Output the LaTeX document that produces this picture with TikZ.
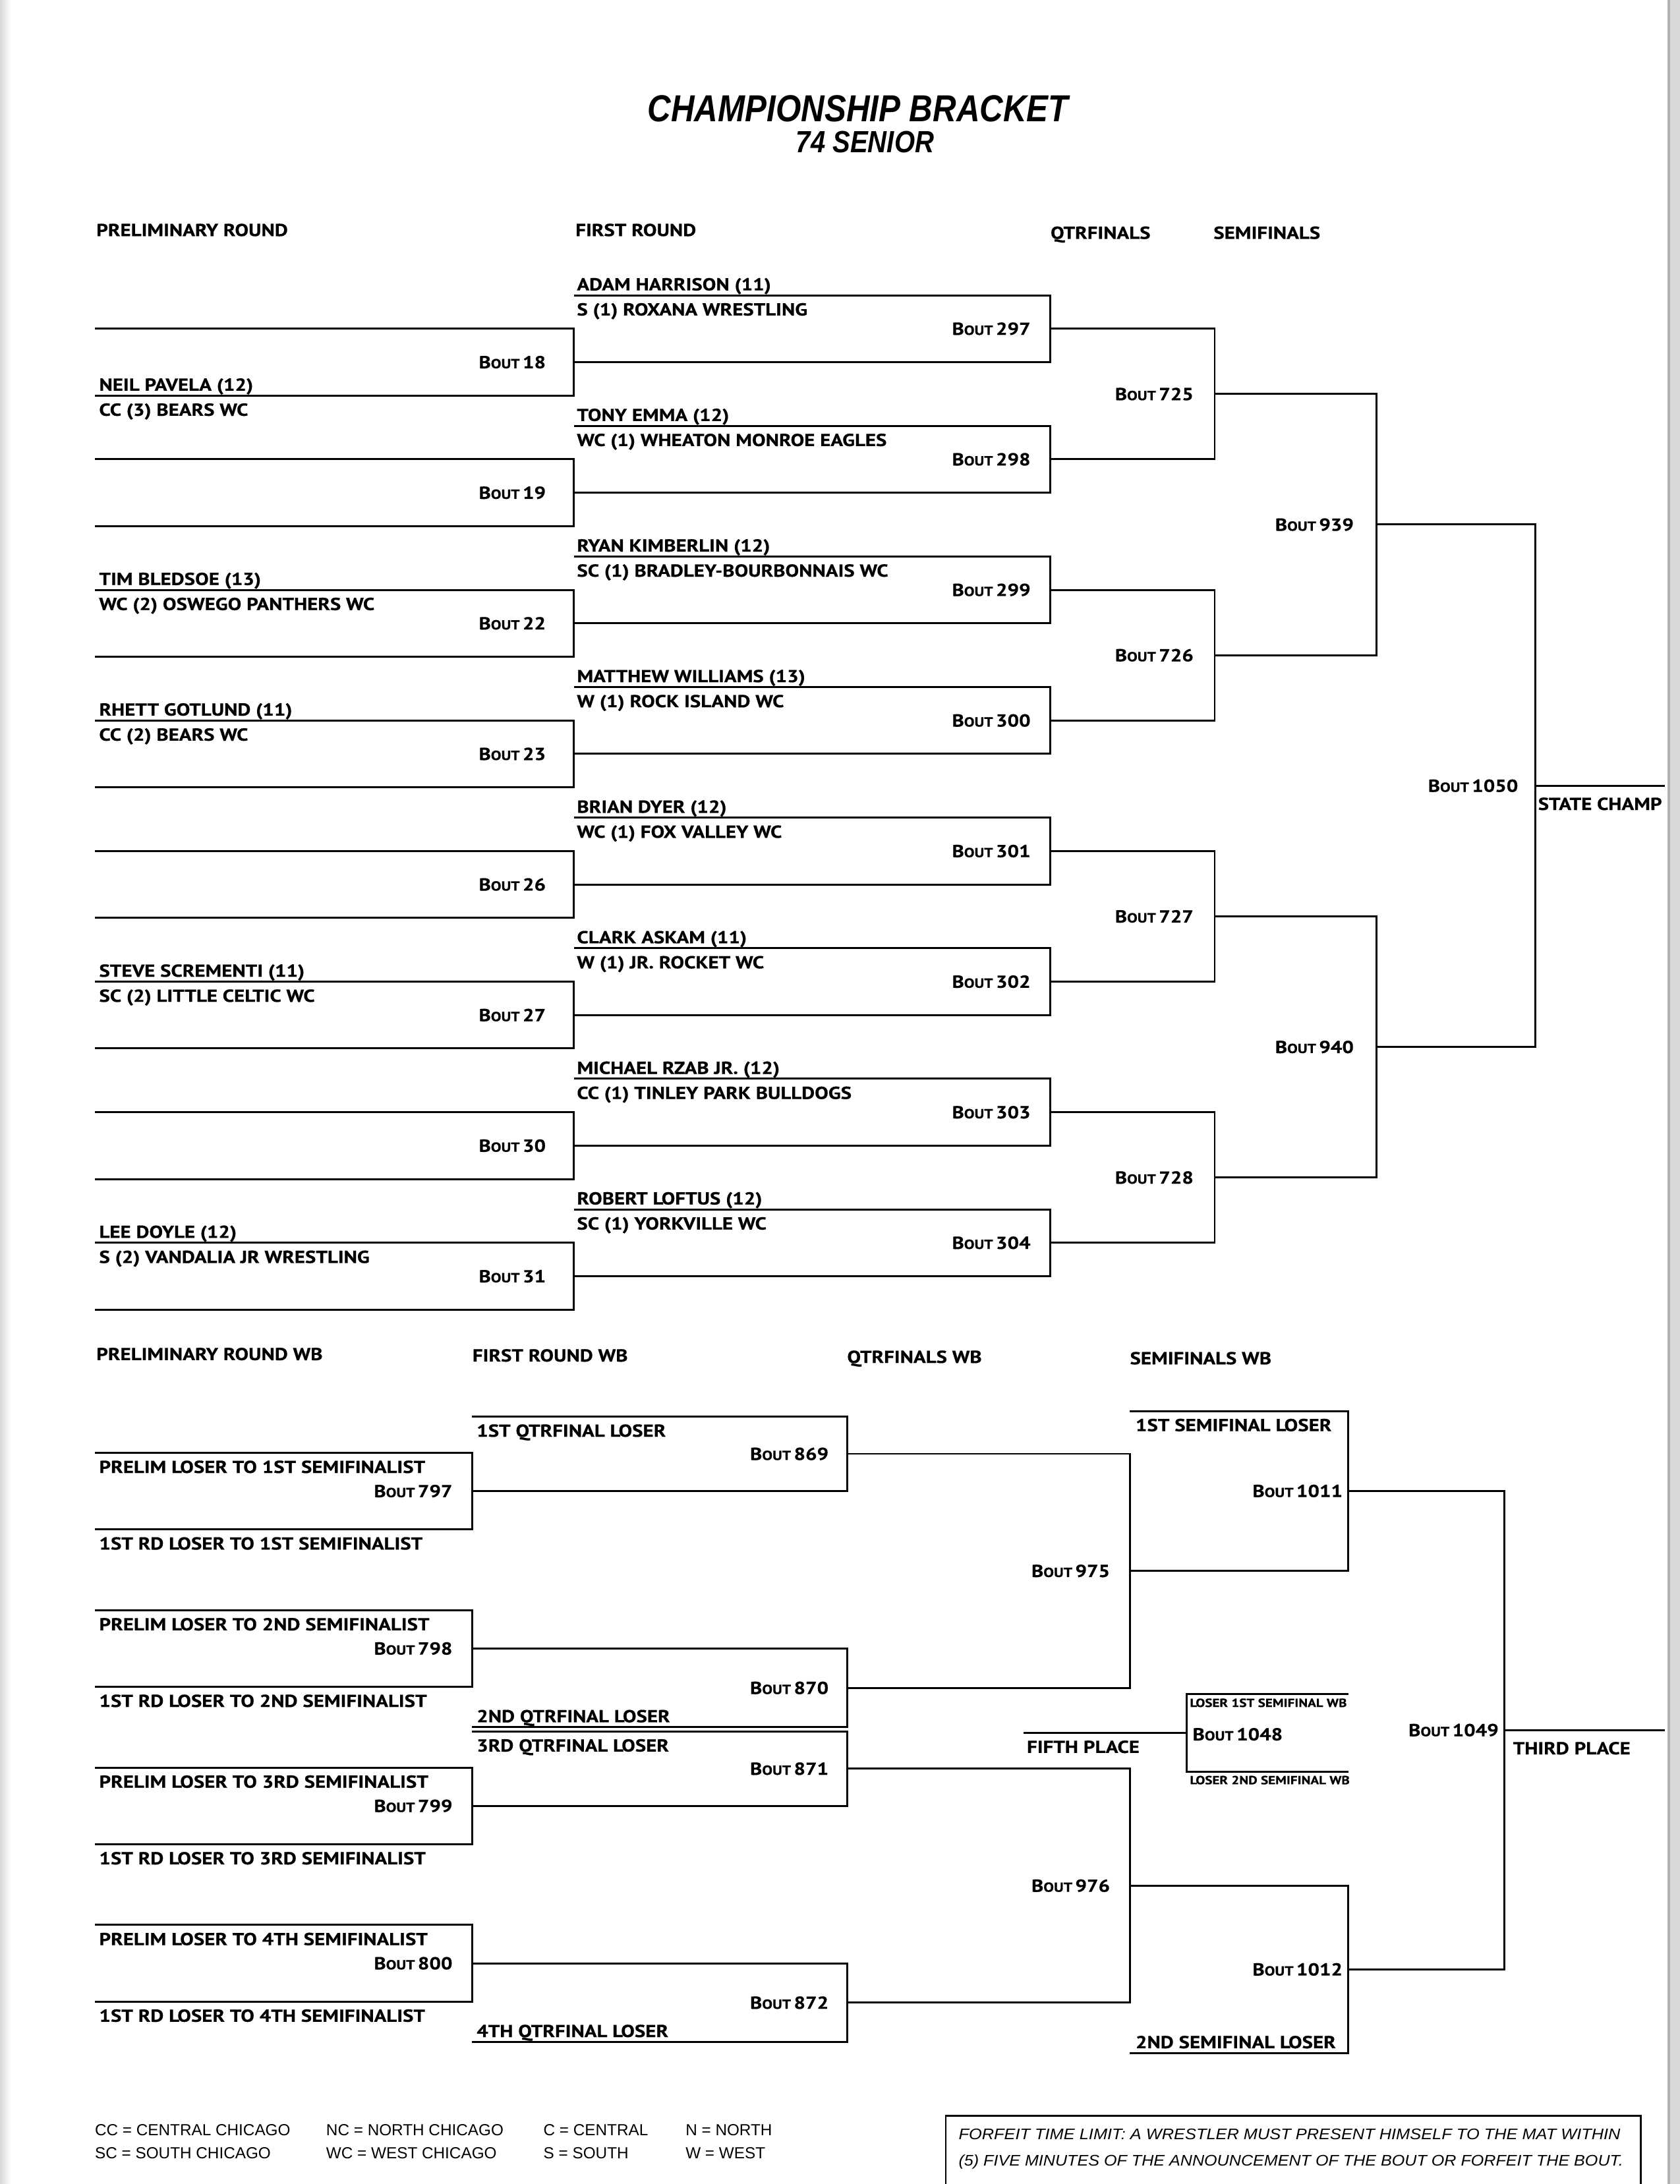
\documentclass[tikz,border=0pt]{standalone}
\usepackage{fontspec}
\usepackage{graphicx}
\setmainfont{PT Sans}[FakeStretch=1.17, BoldFeatures={FakeBold=0.5}]
\newfontfamily\arialf{Liberation Sans}
\tikzset{
  brk/.style={line width=1.4pt, line join=miter},
  lbl/.style={font=\bfseries\fontsize{12.5}{14}\selectfont, inner sep=0pt},
  lw/.style={lbl, anchor=base west},
  le/.style={lbl, anchor=base east},
  tiny/.style={font=\bfseries\fontsize{8.5}{10}\selectfont, inner sep=0pt, anchor=base west},
  leg/.style={font=\arialf\fontsize{11.5}{13}\selectfont, inner sep=0pt, anchor=base west},
}
\newcommand\bout[1]{B{\fontsize{9.5}{10}\selectfont OUT}\,#1}
\begin{document}
\begin{tikzpicture}[x=1pt,y=-1pt]
\useasboundingbox (0,0) rectangle (1206,1568);
\fill[white] (0,0) rectangle (1206,1568);
% page edges of the scan
\fill[gray!30] (1197,0) rectangle (1206,1568);
\fill[gray!60] (1197,0) rectangle (1199,1568);
\shade[left color=gray!30,right color=white] (0,0) rectangle (8,1568);

% titles
\node[inner sep=0pt] (title) at (616,78) {\resizebox{302pt}{\height}{\arialf\bfseries\itshape\fontsize{27}{30}\selectfont CHAMPIONSHIP BRACKET}};
\node[inner sep=0pt] (sub) at (621,102) {\resizebox{99pt}{\height}{\arialf\bfseries\itshape\fontsize{22}{24}\selectfont 74 SENIOR}};

% headings
\node[lw] (h1) at (69,169.5) {PRELIMINARY ROUND};
\node[lw] (h2) at (413,169.5) {FIRST ROUND};
\node[lw] (h3) at (754,171.5) {QTRFINALS};
\node[lw] (h4) at (871,171.5) {SEMIFINALS};
\node[lw] (h5) at (69,976.5) {PRELIMINARY ROUND WB};
\node[lw] (h6) at (339,977.5) {FIRST ROUND WB};
\node[lw] (h7) at (608,978.5) {QTRFINALS WB};
\node[lw] (h8) at (811,979.5) {SEMIFINALS WB};

% ---------------- championship bracket ----------------
% preliminary round
\foreach \i/\b in {0/18,1/19,2/22,3/23,4/26,5/27,6/30,7/31} {
  \pgfmathsetmacro\t{236+93.75*\i}
  \draw[brk] (68,\t) -- (412,\t) -- (412,{\t+48}) -- (68,{\t+48});
  \node[le] (p\b) at (392,{\t+28.4}) {\bout{\b}};
}
% first round
\foreach \i/\b/\nm/\tm in {
  0/297/ADAM HARRISON (11)/S (1) ROXANA WRESTLING,
  1/298/TONY EMMA (12)/WC (1) WHEATON MONROE EAGLES,
  2/299/RYAN KIMBERLIN (12)/SC (1) BRADLEY-BOURBONNAIS WC,
  3/300/MATTHEW WILLIAMS (13)/W (1) ROCK ISLAND WC,
  4/301/BRIAN DYER (12)/WC (1) FOX VALLEY WC,
  5/302/CLARK ASKAM (11)/W (1) JR. ROCKET WC,
  6/303/MICHAEL RZAB JR. (12)/CC (1) TINLEY PARK BULLDOGS,
  7/304/ROBERT LOFTUS (12)/SC (1) YORKVILLE WC} {
  \pgfmathsetmacro\t{212+93.75*\i}
  \draw[brk] (412,\t) -- (754,\t) -- (754,{\t+48}) -- (412,{\t+48});
  \node[le] (f\b) at (740,{\t+28.4}) {\bout{\b}};
  \node[lw] (fn\b) at (414,{\t-3.5}) {\nm};
  \node[lw] (ft\b) at (414,{\t+14.5}) {\tm};
}
% preliminary wrestlers
\node[lw] (n18) at (71,280.5) {NEIL PAVELA (12)};
\node[lw] (t18) at (71,298.5) {CC (3) BEARS WC};
\node[lw] (n22) at (71,420) {TIM BLEDSOE (13)};
\node[lw] (t22) at (71,438) {WC (2) OSWEGO PANTHERS WC};
\node[lw] (n23) at (71,513.75) {RHETT GOTLUND (11)};
\node[lw] (t23) at (71,531.75) {CC (2) BEARS WC};
\node[lw] (n27) at (71,701.25) {STEVE SCREMENTI (11)};
\node[lw] (t27) at (71,719.25) {SC (2) LITTLE CELTIC WC};
\node[lw] (n31) at (71,888.75) {LEE DOYLE (12)};
\node[lw] (t31) at (71,906.75) {S (2) VANDALIA JR WRESTLING};
% quarterfinals
\foreach \j/\b in {0/725,1/726,2/727,3/728} {
  \pgfmathsetmacro\t{236+187.5*\j}
  \draw[brk] (754,\t) -- (872,\t) -- (872,{\t+93.75}) -- (754,{\t+93.75});
  \node[le] (q\b) at (857,{\t+46.9+4.4}) {\bout{\b}};
}
% semifinals
\foreach \k/\b in {0/939,1/940} {
  \pgfmathsetmacro\t{282.9+375*\k}
  \draw[brk] (872,\t) -- (988,\t) -- (988,{\t+187.5}) -- (872,{\t+187.5});
  \node[le] (s\b) at (972,{\t+93.75+4.4}) {\bout{\b}};
}
% final
\draw[brk] (988,376.6) -- (1102,376.6) -- (1102,751.6) -- (988,751.6);
\draw[brk] (1102,564.1) -- (1195,564.1);
\node[le] (b1050) at (1090,568.5) {\bout{1050}};
\node[lw] (champ) at (1104,581.5) {STATE CHAMP};

% ---------------- wrestle-back bracket ----------------
\foreach \i/\b/\o in {0/797/1ST,1/798/2ND,2/799/3RD,3/800/4TH} {
  \pgfmathsetmacro\t{1043+113*\i}
  \draw[brk] (68,\t) -- (339,\t) -- (339,{\t+55}) -- (68,{\t+55});
  \node[le] (w\b) at (325,{\t+27.5+4.4}) {\bout{\b}};
  \node[lw] (wa\b) at (71,{\t+14.5}) {PRELIM LOSER TO \o\ SEMIFINALIST};
  \node[lw] (wb\b) at (71,{\t+69.5}) {1ST RD LOSER TO \o\ SEMIFINALIST};
}
% first round WB
\draw[brk] (339,1017) -- (608,1017) -- (608,1070.5) -- (339,1070.5);
\node[le] (w869) at (595,1048.2) {\bout{869}};
\node[lw] (l869) at (342,1031.5) {1ST QTRFINAL LOSER};
\draw[brk] (339,1183.5) -- (608,1183.5) -- (608,1240) -- (339,1240);
\node[le] (w870) at (595,1216.2) {\bout{870}};
\node[lw] (l870) at (342,1236.5) {2ND QTRFINAL LOSER};
\draw[brk] (339,1243) -- (608,1243) -- (608,1296.5) -- (339,1296.5);
\node[le] (w871) at (595,1274.2) {\bout{871}};
\node[lw] (l871) at (342,1257.5) {3RD QTRFINAL LOSER};
\draw[brk] (339,1409.5) -- (608,1409.5) -- (608,1466) -- (339,1466);
\node[le] (w872) at (595,1442.2) {\bout{872}};
\node[lw] (l872) at (342,1462.5) {4TH QTRFINAL LOSER};
% quarterfinals WB
\draw[brk] (608,1043.75) -- (811,1043.75) -- (811,1211.75) -- (608,1211.75);
\node[le] (w975) at (797,1132.2) {\bout{975}};
\draw[brk] (608,1269.75) -- (811,1269.75) -- (811,1437.75) -- (608,1437.75);
\node[le] (w976) at (797,1358.2) {\bout{976}};
% semifinals WB
\draw[brk] (811,1013) -- (968,1013) -- (968,1127.75) -- (811,1127.75);
\node[le] (w1011) at (964,1074.8) {\bout{1011}};
\node[lw] (l1011) at (815,1027.5) {1ST SEMIFINAL LOSER};
\draw[brk] (811,1353.75) -- (968,1353.75) -- (968,1474) -- (811,1474);
\node[le] (w1012) at (964,1418.3) {\bout{1012}};
\node[lw] (l1012) at (815,1470.5) {2ND SEMIFINAL LOSER};
% third place
\draw[brk] (968,1070.4) -- (1080,1070.4) -- (1080,1413.9) -- (968,1413.9);
\draw[brk] (1080,1242.1) -- (1195,1242.1);
\node[le] (w1049) at (1076,1246.5) {\bout{1049}};
\node[lw] (third) at (1086,1259.5) {THIRD PLACE};
% fifth place
\draw[brk] (968,1216) -- (852,1216) -- (852,1272) -- (968,1272);
\draw[brk] (735,1244) -- (852,1244);
\node[lw] (w1048) at (856,1249.5) {\bout{1048}};
\node[tiny] (l1048a) at (854,1225.5) {LOSER 1ST SEMIFINAL WB};
\node[tiny] (l1048b) at (854,1281) {LOSER 2ND SEMIFINAL WB};
\node[lw] (fifth) at (737,1258.5) {FIFTH PLACE};

% ---------------- legend ----------------
\node[leg] (g1) at (68,1533) {CC = CENTRAL CHICAGO};
\node[leg] (g2) at (68,1550) {SC = SOUTH CHICAGO};
\node[leg] (g3) at (234,1533) {NC = NORTH CHICAGO};
\node[leg] (g4) at (234,1550) {WC = WEST CHICAGO};
\node[leg] (g5) at (390,1533) {C = CENTRAL};
\node[leg] (g6) at (390,1550) {S = SOUTH};
\node[leg] (g7) at (492,1533) {N = NORTH};
\node[leg] (g8) at (492,1550) {W = WEST};

% forfeit box
\draw[line width=1.3pt] (679,1568) -- (679,1519) -- (1178,1519) -- (1178,1568);
\node[leg] (ff1) at (688,1536) {\resizebox{475pt}{\height}{\arialf\itshape\fontsize{11}{13}\selectfont FORFEIT TIME LIMIT: A WRESTLER MUST PRESENT HIMSELF TO THE MAT WITHIN}};
\node[leg] (ff2) at (688,1555) {\resizebox{477pt}{\height}{\arialf\itshape\fontsize{11}{13}\selectfont (5) FIVE MINUTES OF THE ANNOUNCEMENT OF THE BOUT OR FORFEIT THE BOUT.}};
\end{tikzpicture}
\end{document}
